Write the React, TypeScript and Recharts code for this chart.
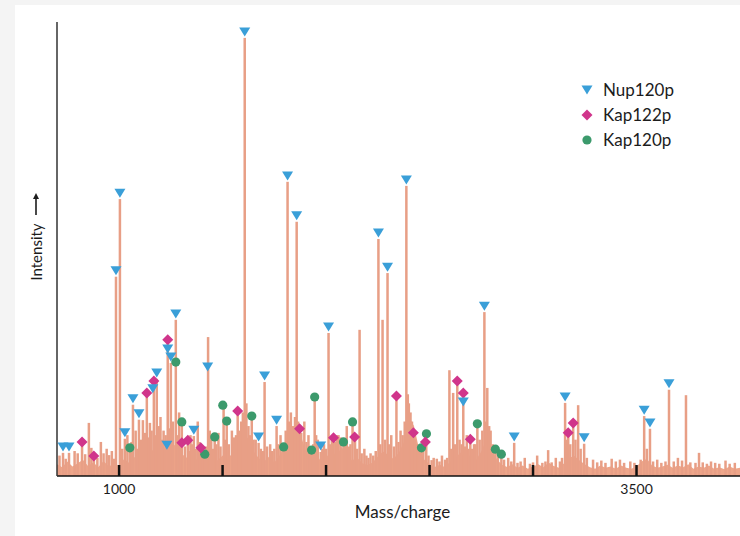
import {
  Area,
  Bar,
  ComposedChart,
  Legend,
  Scatter,
  XAxis,
  YAxis,
} from 'recharts';

// -----------------------------------------------------------------------------
// Data (m/z, relative intensity)
// -----------------------------------------------------------------------------

const peaks: [number, number][] = [
  [729, 5.1], [758, 5.1], [800, 5.0], [821, 7.5], [854, 11.7], [878, 4.4],
  [912, 7.5], [940, 6.0], [965, 5.5], [985, 43.9], [1004, 61.0], [1028, 8.2],
  [1040, 9.0], [1052, 6.2], [1067, 15.7], [1080, 10.0], [1096, 12.4], [1115, 12.3],
  [1134, 18.3], [1149, 11.7], [1168, 20.9], [1182, 21.4], [1200, 13.0], [1215, 10.0],
  [1235, 30.0], [1250, 24.9], [1274, 34.4], [1290, 14.0], [1303, 11.9], [1332, 7.9],
  [1345, 9.0], [1361, 8.8], [1380, 12.0], [1395, 6.2], [1414, 4.8], [1430, 30.6],
  [1445, 8.0], [1462, 8.6], [1480, 9.5], [1505, 15.6], [1520, 12.1], [1545, 10.0],
  [1573, 14.3], [1590, 12.0], [1607, 96.5], [1625, 11.0], [1641, 13.2], [1660, 8.0],
  [1674, 7.3], [1703, 20.7], [1730, 7.0], [1761, 11.0], [1780, 9.0], [1795, 6.4],
  [1814, 64.8], [1830, 14.0], [1858, 56.0], [1872, 10.4], [1895, 12.0], [1915, 9.0],
  [1930, 5.7], [1945, 17.4], [1960, 8.0], [1974, 5.3], [1990, 7.0], [2012, 31.5],
  [2036, 8.4], [2060, 9.0], [2084, 7.5], [2100, 11.0], [2128, 11.9], [2140, 8.6],
  [2162, 32.2], [2185, 6.0], [2215, 5.0], [2253, 52.2], [2273, 34.4], [2297, 44.7],
  [2315, 9.0], [2340, 17.6], [2360, 10.0], [2388, 63.9], [2400, 16.0], [2422, 9.5],
  [2440, 7.0], [2461, 6.2], [2484, 9.3], [2520, 4.0], [2560, 4.5], [2596, 23.3],
  [2614, 18.3], [2634, 20.9], [2663, 18.3], [2680, 9.0], [2697, 8.1], [2715, 7.0],
  [2731, 11.5], [2765, 36.1], [2779, 19.4], [2795, 10.0], [2818, 5.9], [2847, 4.8],
  [2880, 4.0], [2909, 7.3], [2960, 4.0], [3020, 4.5], [3073, 5.7], [3110, 4.0],
  [3155, 16.1], [3170, 9.5], [3194, 11.7], [3218, 15.6], [3247, 7.1], [3290, 3.6],
  [3330, 3.4], [3380, 3.8], [3420, 3.6], [3470, 3.2], [3537, 13.2], [3565, 10.4],
  [3600, 3.6], [3657, 19.0], [3700, 4.0], [3739, 17.8], [3802, 5.1], [3860, 3.2],
  [3930, 3.4],
];

// small unassigned spikes riding on the baseline
const spikes: [number, number][] = [
  [712, 4.5], [742, 3.8], [785, 5.5], [836, 4.8], [866, 6.2], [895, 4.0], [925, 5.0],
  [952, 4.6], [975, 3.8], [1015, 6.0], [1060, 7.5], [1088, 6.0], [1106, 8.0],
  [1124, 9.5], [1142, 8.5], [1157, 10.0], [1175, 9.0], [1192, 11.0], [1208, 8.0],
  [1225, 9.0], [1242, 10.5], [1260, 12.0], [1282, 9.0], [1296, 8.0], [1318, 6.5],
  [1338, 5.5], [1353, 7.0], [1370, 6.0], [1388, 7.5], [1404, 5.5], [1420, 6.5],
  [1438, 10.0], [1453, 6.0], [1470, 7.0], [1490, 6.5], [1512, 8.0], [1530, 7.0],
  [1555, 8.5], [1565, 9.0], [1580, 10.0], [1598, 14.0], [1615, 16.0], [1633, 9.0],
  [1650, 8.0], [1685, 6.0], [1695, 5.5], [1715, 6.5], [1740, 5.5], [1750, 6.0],
  [1770, 7.0], [1805, 10.0], [1822, 12.0], [1840, 11.0], [1850, 13.0], [1865, 12.0],
  [1880, 9.5], [1905, 7.5], [1922, 6.0], [1938, 7.0], [1952, 9.0], [1982, 6.0],
  [2000, 6.0], [2020, 7.0], [2028, 8.0], [2045, 7.5], [2052, 9.0], [2070, 8.5],
  [2092, 7.0], [2110, 6.5], [2118, 7.0], [2150, 6.0], [2172, 5.0], [2195, 4.5],
  [2205, 4.0], [2228, 4.5], [2240, 5.5], [2262, 7.0], [2285, 8.0], [2305, 7.0],
  [2328, 6.5], [2350, 7.5], [2370, 9.0], [2380, 12.0], [2395, 18.0], [2408, 14.0],
  [2415, 12.0], [2430, 8.0], [2450, 6.5], [2470, 5.5], [2495, 4.5], [2510, 3.5],
  [2535, 3.8], [2548, 3.2], [2575, 3.6], [2585, 4.0], [2605, 6.0], [2624, 7.0],
  [2645, 8.0], [2655, 7.0], [2672, 6.5], [2688, 6.0], [2706, 6.0], [2722, 7.0],
  [2742, 8.0], [2755, 10.0], [2772, 12.0], [2788, 11.0], [2805, 7.0], [2830, 5.0],
  [2860, 3.6], [2895, 3.2], [2925, 2.9], [2940, 3.2], [2985, 2.7], [3000, 3.0],
  [3045, 2.9], [3060, 3.2], [3090, 3.0], [3130, 3.2], [3140, 4.0], [3162, 8.0],
  [3180, 7.0], [3205, 8.0], [3230, 6.0], [3260, 4.0], [3310, 3.0], [3350, 2.9],
  [3400, 3.2], [3440, 2.9], [3490, 2.9], [3520, 3.6], [3550, 6.0], [3580, 3.2],
  [3620, 2.9], [3640, 3.2], [3680, 3.2], [3720, 3.4], [3760, 3.0], [3785, 2.9],
  [3820, 3.0], [3840, 2.7], [3880, 2.9], [3900, 2.7], [3950, 2.7], [3975, 2.9],
];

// baseline chemical noise floor
const noise: [number, number][] = [
  [700, 2.6], [725, 1.9], [750, 3.2], [775, 2.1], [800, 2.8], [825, 3.6], [850, 2.2],
  [875, 3.0], [900, 2.0], [925, 3.3], [950, 2.1], [975, 2.7], [1000, 2.3], [1025, 3.8],
  [1050, 2.8], [1075, 4.2], [1100, 3.2], [1125, 4.8], [1150, 6.2], [1175, 5.0],
  [1200, 7.0], [1225, 5.8], [1250, 7.8], [1275, 6.4], [1300, 5.0], [1325, 4.0],
  [1350, 5.2], [1375, 3.6], [1400, 4.7], [1425, 3.7], [1450, 5.0], [1475, 3.4],
  [1500, 4.5], [1525, 3.8], [1550, 5.2], [1575, 6.0], [1600, 7.6], [1625, 8.6],
  [1650, 5.4], [1675, 3.9], [1700, 3.2], [1725, 4.3], [1750, 3.0], [1775, 4.5],
  [1800, 6.6], [1825, 9.0], [1850, 8.0], [1875, 9.4], [1900, 5.8], [1925, 4.1],
  [1950, 5.2], [1975, 3.2], [2000, 4.0], [2025, 5.6], [2050, 4.5], [2075, 6.4],
  [2100, 4.8], [2125, 3.4], [2150, 4.1], [2175, 2.8], [2200, 2.4], [2225, 3.0],
  [2250, 4.3], [2275, 5.4], [2300, 4.7], [2325, 3.8], [2350, 5.0], [2375, 7.4],
  [2400, 13.0], [2425, 11.0], [2450, 5.8], [2475, 3.6], [2500, 2.6], [2525, 2.0],
  [2550, 2.5], [2575, 1.9], [2600, 3.2], [2625, 4.0], [2650, 5.2], [2675, 4.1],
  [2700, 4.7], [2725, 3.6], [2750, 5.4], [2775, 8.2], [2800, 5.8], [2825, 3.7],
  [2850, 2.5], [2875, 2.0], [2900, 2.6], [2925, 1.8], [2950, 2.3], [2975, 1.6],
  [3000, 2.1], [3025, 2.6], [3050, 1.9], [3075, 3.0], [3100, 2.2], [3125, 1.8],
  [3150, 2.8], [3175, 4.0], [3200, 4.4], [3225, 3.4], [3250, 2.6], [3275, 1.9],
  [3300, 1.6], [3325, 2.3], [3350, 1.8], [3375, 2.1], [3400, 1.6], [3425, 2.3],
  [3450, 1.8], [3475, 1.6], [3500, 2.1], [3525, 3.2], [3550, 3.8], [3575, 2.3],
  [3600, 1.8], [3625, 2.1], [3650, 2.5], [3675, 1.8], [3700, 2.3], [3725, 1.9],
  [3750, 2.6], [3775, 1.6], [3800, 2.1], [3825, 1.8], [3850, 2.3], [3875, 1.6],
  [3900, 1.9], [3925, 1.5], [3950, 2.1], [3975, 1.6], [4000, 1.8],
];

const nup120p: [number, number][] = [
  [729, 6.4], [758, 6.4], [985, 45.2], [1004, 62.3], [1028, 9.5], [1067, 17.0],
  [1096, 13.7], [1163, 19.2], [1182, 22.7], [1231, 6.8], [1235, 28.0], [1250, 26.2],
  [1274, 35.7], [1361, 10.1], [1428, 24.0], [1607, 97.8], [1674, 8.6], [1703, 22.0],
  [1761, 12.3], [1814, 66.1], [1858, 57.3], [1974, 6.6], [2012, 32.8], [2253, 53.5],
  [2297, 46.0], [2388, 65.2], [2663, 16.3], [2765, 37.4], [2909, 8.6], [3155, 17.4],
  [3247, 8.4], [3537, 14.5], [3565, 11.7], [3657, 20.3],
];

const kap122p: [number, number][] = [
  [821, 7.5], [878, 4.4], [1134, 18.3], [1168, 20.9], [1235, 30.0], [1303, 7.3],
  [1332, 7.9], [1395, 6.2], [1573, 14.3], [1872, 10.4], [2036, 8.4], [2138, 8.6],
  [2340, 17.6], [2422, 9.5], [2480, 7.5], [2634, 20.9], [2663, 18.3], [2697, 8.1],
  [3170, 9.5], [3194, 11.7],
];

const kap120p: [number, number][] = [
  [1052, 6.2], [1274, 25.1], [1303, 11.9], [1414, 4.8], [1462, 8.6], [1501, 15.6],
  [1520, 12.1], [1641, 13.2], [1795, 6.4], [1930, 5.7], [1945, 17.4], [2084, 7.5],
  [2128, 11.9], [2461, 6.2], [2485, 9.3], [2731, 11.5], [2818, 5.9], [2847, 4.8],
];

const xTicks = [1000, 1500, 2000, 2500, 3000, 3500];
const tickLabels: Record<number, string> = { 1000: '1000', 3500: '3500' };

const toRows = (pairs: [number, number][]) => pairs.map(([mz, v]) => ({ mz, v }));

// -----------------------------------------------------------------------------
// Styles
// -----------------------------------------------------------------------------

const FONT = 'Lato, sans-serif';
const TEXT = '#1c1c1c';
const PEAK = '#E89F86';
const NOISE = '#EEA68A';
const BLUE = '#3A9FD8';
const MAGENTA = '#D0358B';
const GREEN = '#3C9A6C';

// -----------------------------------------------------------------------------
// Marker shapes
// -----------------------------------------------------------------------------

const Triangle = ({ cx, cy }: { cx: number; cy: number }) => (
  <polygon points={`${cx - 5.5},${cy - 4.5} ${cx + 5.5},${cy - 4.5} ${cx},${cy + 4.5}`} fill={BLUE} />
);

const Diamond = ({ cx, cy }: { cx: number; cy: number }) => (
  <polygon points={`${cx},${cy - 5.5} ${cx + 5.5},${cy} ${cx},${cy + 5.5} ${cx - 5.5},${cy}`} fill={MAGENTA} />
);

const Dot = ({ cx, cy }: { cx: number; cy: number }) => <circle cx={cx} cy={cy} r={4.6} fill={GREEN} />;

// peaks are drawn as thin sticks centred on their m/z
// eslint-disable-next-line @typescript-eslint/no-explicit-any
const Stick = (props: any) => {
  const { x, y, width, height } = props;
  if (!height || height <= 0) return <g />;
  return <rect x={x + width / 2 - 1.25} y={y} width={2.5} height={height} fill={PEAK} />;
};

// -----------------------------------------------------------------------------
// Axis pieces
// -----------------------------------------------------------------------------

// eslint-disable-next-line @typescript-eslint/no-explicit-any
const MassTick = (props: any) => {
  const { x, y, payload } = props;
  const label = tickLabels[payload.value];
  return (
    <g>
      <line x1={x} x2={x} y1={y} y2={y - 11} stroke="#111" strokeWidth={2.5} />
      {label && (
        <text x={x} y={y + 18} textAnchor="middle" fill={TEXT} fontSize={14} fontFamily={FONT}>
          {label}
        </text>
      )}
    </g>
  );
};

// eslint-disable-next-line @typescript-eslint/no-explicit-any
const IntensityLabel = (props: any) => {
  const { viewBox } = props;
  const cx = viewBox.x + 36;
  const cy = viewBox.y + 230;
  return (
    <g>
      <text
        x={cx}
        y={cy}
        transform={`rotate(-90 ${cx} ${cy})`}
        textAnchor="middle"
        dominantBaseline="central"
        fill={TEXT}
        fontSize={15}
        fontFamily={FONT}
      >
        Intensity
      </text>
      <line x1={cx} x2={cx} y1={cy - 37} y2={cy - 56} stroke={TEXT} strokeWidth={1.6} />
      <polygon points={`${cx - 3},${cy - 53} ${cx + 3},${cy - 53} ${cx},${cy - 59}`} fill={TEXT} />
    </g>
  );
};

const legendItems = [
  { name: 'Nup120p', Shape: Triangle },
  { name: 'Kap122p', Shape: Diamond },
  { name: 'Kap120p', Shape: Dot },
];

const SpectrumLegend = () => (
  <div style={{ fontFamily: FONT, fontSize: 17, color: TEXT }}>
    {legendItems.map(({ name, Shape }) => (
      <div key={name} style={{ display: 'flex', alignItems: 'center', height: 25 }}>
        <svg width={16} height={16} style={{ marginRight: 8 }}>
          <Shape cx={8} cy={8} />
        </svg>
        <span>{name}</span>
      </div>
    ))}
  </div>
);

// -----------------------------------------------------------------------------
// Component
// -----------------------------------------------------------------------------

const App = () => {
  const sticks = toRows([...peaks, ...spikes]);

  return (
    <div style={{ position: 'absolute', left: 0, top: 0, width: 740, height: 536, background: '#f4f4f4' }}>
      <div style={{ position: 'absolute', left: 15, top: 5, right: 0, bottom: 0, background: '#fff' }} />
      <ComposedChart
        style={{ position: 'absolute', left: 0, top: 0 }}
        width={740}
        height={536}
        data={sticks}
        margin={{ top: 22, right: 0, bottom: 0, left: 0 }}
      >
        <Area
          data={toRows(noise)}
          dataKey="v"
          type="linear"
          fill={NOISE}
          fillOpacity={1}
          stroke="none"
          isAnimationActive={false}
        />
        <Bar dataKey="v" shape={Stick} isAnimationActive={false} />
        <Scatter name="Kap120p" data={toRows(kap120p)} dataKey="v" shape={Dot} isAnimationActive={false} />
        <Scatter name="Kap122p" data={toRows(kap122p)} dataKey="v" shape={Diamond} isAnimationActive={false} />
        <Scatter name="Nup120p" data={toRows(nup120p)} dataKey="v" shape={Triangle} isAnimationActive={false} />
        <XAxis
          dataKey="mz"
          type="number"
          domain={[700, 4000]}
          allowDataOverflow
          ticks={xTicks}
          interval={0}
          height={60}
          tickSize={0}
          tickMargin={0}
          tickLine={false}
          tick={MassTick}
          axisLine={{ stroke: '#111', strokeWidth: 1.5 }}
          label={{
            value: 'Mass/charge',
            position: 'insideBottom',
            offset: 18,
            dx: 4,
            fill: TEXT,
            fontSize: 17,
            fontFamily: FONT,
          }}
        />
        <YAxis
          type="number"
          domain={[0, 100]}
          allowDataOverflow
          width={57}
          tick={false}
          tickLine={false}
          axisLine={{ stroke: '#333', strokeWidth: 1.5 }}
          label={{ content: IntensityLabel }}
        />
        <Legend
          layout="horizontal"
          verticalAlign="middle"
          align="center"
          content={SpectrumLegend}
          wrapperStyle={{ left: 579, top: 77, width: 120 }}
        />
      </ComposedChart>
    </div>
  );
};

export default App;
